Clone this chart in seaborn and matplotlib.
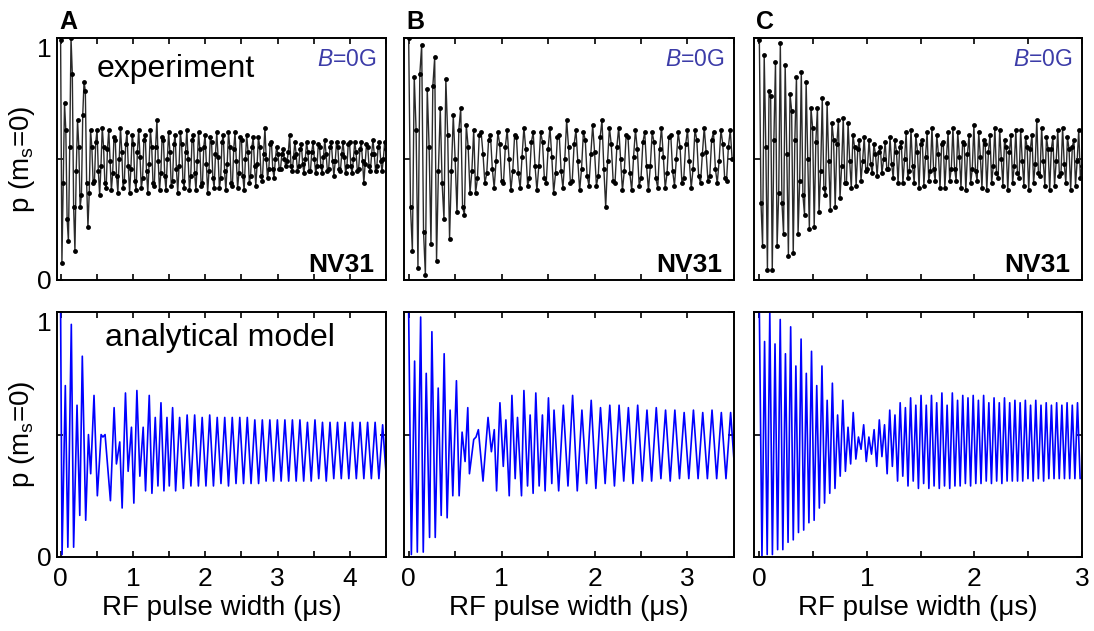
# Rabi oscillations NV31: experiment vs analytical model
import numpy as np
import matplotlib
matplotlib.use("Agg")
import matplotlib.pyplot as plt
import seaborn as sns

# ---- experiment data (p(ms=0) sampled at a fixed pulse-width step) ----
exp_a_step = 0.018
exp_a = [0.99, 0.07, 0.40, 0.73, 0.62, 0.25, 0.16, 0.55, 1.00, 0.85,
         0.30, 0.12, 0.45, 0.66, 0.55, 0.30, 0.35, 0.68, 0.82, 0.78,
         0.40, 0.22, 0.36, 0.62, 0.55, 0.40,
         0.41, 0.57, 0.62, 0.45, 0.35, 0.47, 0.63, 0.55, 0.40, 0.38,
         0.54, 0.62, 0.49, 0.37, 0.44, 0.59, 0.58, 0.43, 0.36, 0.50,
         0.63, 0.53, 0.38, 0.41, 0.56, 0.61, 0.47, 0.36, 0.46, 0.60,
         0.56, 0.41, 0.37, 0.53, 0.62, 0.51, 0.38, 0.42, 0.58, 0.60,
         0.45, 0.36, 0.48, 0.62, 0.55, 0.40, 0.39, 0.55, 0.66, 0.49,
         0.37, 0.44, 0.59, 0.58, 0.43, 0.37, 0.50, 0.61, 0.53, 0.39,
         0.41, 0.56, 0.60, 0.46, 0.36, 0.47, 0.61, 0.56, 0.41, 0.38,
         0.53, 0.62, 0.50, 0.37, 0.43, 0.58, 0.60, 0.44, 0.37, 0.49,
         0.61, 0.54, 0.39, 0.40, 0.55, 0.60, 0.48, 0.36, 0.45, 0.59,
         0.57, 0.42, 0.38, 0.52, 0.61, 0.51, 0.38, 0.42, 0.57, 0.60,
         0.45, 0.37, 0.48, 0.61, 0.55, 0.40, 0.39, 0.54, 0.61, 0.49,
         0.38, 0.44, 0.59, 0.58, 0.43, 0.37, 0.50, 0.60, 0.53, 0.40,
         0.43, 0.55, 0.59, 0.47, 0.39, 0.48, 0.59, 0.55, 0.43, 0.41,
         0.52, 0.63, 0.50, 0.42, 0.46, 0.56, 0.57, 0.46, 0.42, 0.50,
         0.55, 0.52, 0.46, 0.46, 0.52, 0.54, 0.50, 0.47, 0.49, 0.53,
         0.60, 0.47, 0.45, 0.51, 0.57, 0.52, 0.45, 0.47, 0.54, 0.56,
         0.48, 0.44, 0.50, 0.57, 0.53, 0.45, 0.45, 0.53, 0.57, 0.50,
         0.44, 0.47, 0.56, 0.55, 0.47, 0.44, 0.51, 0.58, 0.52, 0.45,
         0.46, 0.55, 0.57, 0.49, 0.43, 0.49, 0.57, 0.55, 0.46, 0.45,
         0.52, 0.57, 0.51, 0.44, 0.47, 0.56, 0.57, 0.47, 0.44, 0.50,
         0.57, 0.53, 0.45, 0.46, 0.54, 0.57, 0.49, 0.40, 0.48, 0.56,
         0.55, 0.47, 0.45, 0.52, 0.58, 0.52, 0.45, 0.47, 0.55, 0.57,
         0.49, 0.45, 0.50, 0.57, 0.54]

exp_b_step = 0.02
exp_b = [1.00, 0.30, 0.12, 0.84, 0.62, 0.05, 0.85, 0.97, 0.20, 0.02,
         0.79, 0.55, 0.15, 0.80, 0.92, 0.08, 0.45, 0.71, 0.40, 0.25,
         0.83, 0.60, 0.17, 0.45, 0.68, 0.50, 0.28, 0.62, 0.71, 0.30,
         0.27, 0.64, 0.55, 0.36, 0.45, 0.62, 0.36, 0.42, 0.60,
         0.61, 0.52, 0.40, 0.44, 0.58, 0.60, 0.46, 0.38, 0.49, 0.61,
         0.56, 0.41, 0.40, 0.55, 0.62, 0.50, 0.37, 0.45, 0.60, 0.59,
         0.44, 0.38, 0.51, 0.63, 0.54, 0.39, 0.42, 0.57, 0.61, 0.47,
         0.37, 0.47, 0.61, 0.57, 0.42, 0.40, 0.54, 0.63, 0.51, 0.36,
         0.44, 0.59, 0.60, 0.45, 0.38, 0.50, 0.66, 0.55, 0.40, 0.41,
         0.56, 0.62, 0.49, 0.37, 0.46, 0.61, 0.58, 0.43, 0.39, 0.52,
         0.64, 0.53, 0.39, 0.43, 0.59, 0.66, 0.46, 0.30, 0.49, 0.63,
         0.56, 0.41, 0.40, 0.55, 0.63, 0.50, 0.37, 0.45, 0.60, 0.59,
         0.44, 0.37, 0.51, 0.62, 0.54, 0.39, 0.42, 0.57, 0.61, 0.47,
         0.37, 0.47, 0.61, 0.57, 0.42, 0.38, 0.54, 0.63, 0.51, 0.38,
         0.44, 0.59, 0.60, 0.45, 0.39, 0.50, 0.61, 0.55, 0.40, 0.42,
         0.56, 0.62, 0.49, 0.38, 0.46, 0.62, 0.58, 0.43, 0.40, 0.52,
         0.63, 0.53, 0.41, 0.43, 0.58, 0.61, 0.46, 0.40, 0.49, 0.62,
         0.56, 0.42, 0.41, 0.55, 0.62, 0.50]

exp_c_step = 0.015
exp_c = [0.99, 0.32, 0.14, 0.93, 0.55, 0.04, 0.78, 0.76, 0.04, 0.58,
         0.90, 0.14, 0.36, 0.98, 0.32, 0.19, 0.89, 0.52, 0.10, 0.77,
         0.70, 0.11, 0.58, 0.84, 0.19, 0.41, 0.86, 0.35, 0.27, 0.82,
         0.50, 0.21, 0.71, 0.63, 0.22, 0.57, 0.71, 0.28, 0.45, 0.75,
         0.38, 0.35, 0.73, 0.49, 0.29, 0.65, 0.58, 0.30, 0.56, 0.66,
         0.34, 0.47, 0.67, 0.40, 0.40, 0.65, 0.49, 0.38, 0.60, 0.55,
         0.39, 0.54, 0.58, 0.41, 0.49, 0.59, 0.45, 0.46, 0.58, 0.48,
         0.44, 0.56, 0.52, 0.43, 0.53, 0.55, 0.44, 0.50, 0.57, 0.46,
         0.46, 0.59, 0.48, 0.42, 0.58, 0.53, 0.40, 0.55, 0.57, 0.40,
         0.50, 0.61, 0.42, 0.45, 0.62, 0.47, 0.40, 0.60, 0.53, 0.38,
         0.56, 0.58, 0.39, 0.51, 0.61, 0.41, 0.45, 0.63, 0.46, 0.41,
         0.60, 0.52, 0.38, 0.56, 0.57, 0.38, 0.51, 0.61, 0.41, 0.46,
         0.63, 0.46, 0.41, 0.61, 0.51, 0.38, 0.57, 0.56, 0.37, 0.52,
         0.60, 0.40, 0.46, 0.64, 0.45, 0.41, 0.61, 0.51, 0.38, 0.58,
         0.56, 0.37, 0.53, 0.60, 0.40, 0.47, 0.63, 0.44, 0.42, 0.62,
         0.50, 0.39, 0.58, 0.55, 0.37, 0.53, 0.60, 0.40, 0.47, 0.62,
         0.44, 0.42, 0.62, 0.49, 0.39, 0.59, 0.55, 0.37, 0.54, 0.60,
         0.40, 0.48, 0.66, 0.44, 0.43, 0.63, 0.49, 0.39, 0.59, 0.54,
         0.37, 0.54, 0.59, 0.39, 0.49, 0.62, 0.43, 0.44, 0.63, 0.48,
         0.40, 0.59, 0.54, 0.37, 0.55, 0.58, 0.39, 0.49, 0.62, 0.42,
         0.47]

# ---- analytical model: turning points (peak / trough) ----
model_a_t = [0.000, 0.020, 0.065, 0.100, 0.148, 0.180, 0.227, 0.265, 0.300, 0.347,
             0.385, 0.416, 0.462, 0.508, 0.560, 0.585, 0.615, 0.689, 0.740, 0.772,
             0.818, 0.851, 0.897, 0.934, 0.980, 1.013, 1.055, 1.096, 1.142, 1.175,
             1.226, 1.263, 1.309, 1.346, 1.388, 1.429, 1.471, 1.503, 1.549, 1.591,
             1.646]
model_a_p = [1.00, 0.01, 0.70, 0.04, 0.95, 0.04, 0.62, 0.17, 0.82, 0.15,
             0.50, 0.34, 0.66, 0.25, 0.50, 0.49, 0.50, 0.23, 0.61, 0.38,
             0.47, 0.20, 0.67, 0.35, 0.53, 0.22, 0.68, 0.33, 0.53, 0.27,
             0.66, 0.26, 0.57, 0.29, 0.63, 0.27, 0.57, 0.29, 0.61, 0.27,
             0.57]
model_a_tail_start = 1.698
model_a_half = 0.052
model_a_tail_lo = [0.28, 0.29, 0.29, 0.29, 0.29, 0.30, 0.29, 0.30, 0.30, 0.30,
                   0.30, 0.31, 0.31, 0.31, 0.31, 0.31, 0.31, 0.31, 0.32, 0.31,
                   0.32, 0.32, 0.32, 0.32, 0.32, 0.32, 0.32, 0.32]
model_a_tail_hi = [0.58, 0.58, 0.57, 0.58, 0.57, 0.57, 0.57, 0.57, 0.57, 0.56,
                   0.56, 0.56, 0.56, 0.56, 0.56, 0.56, 0.55, 0.56, 0.55, 0.55,
                   0.55, 0.55, 0.55, 0.55, 0.55, 0.55, 0.54, 0.55]

model_b_t = [0.000, 0.029, 0.064, 0.093, 0.129, 0.157, 0.189, 0.225, 0.250, 0.286,
             0.318, 0.350, 0.382, 0.414, 0.446, 0.475, 0.514, 0.543, 0.575, 0.607,
             0.636, 0.654, 0.700, 0.725, 0.750, 0.800, 0.854, 0.890, 0.921, 0.946,
             0.982, 1.018, 1.046, 1.082, 1.111, 1.146, 1.171, 1.214, 1.240, 1.279,
             1.307, 1.339, 1.368, 1.404, 1.439, 1.468, 1.504, 1.540, 1.564]
model_b_p = [1.00, 0.01, 0.80, 0.02, 0.98, 0.02, 0.75, 0.08, 0.92, 0.08,
             0.69, 0.17, 0.83, 0.16, 0.60, 0.25, 0.72, 0.25, 0.51, 0.39,
             0.61, 0.34, 0.48, 0.49, 0.52, 0.31, 0.57, 0.43, 0.52, 0.27,
             0.63, 0.37, 0.56, 0.25, 0.66, 0.32, 0.57, 0.25, 0.68, 0.29,
             0.58, 0.26, 0.67, 0.29, 0.58, 0.27, 0.65, 0.30, 0.60]
model_b_tail_start = 1.614
model_b_half = 0.05
model_b_tail_lo = [0.27, 0.29, 0.27, 0.30, 0.28, 0.30, 0.29, 0.31, 0.30, 0.31,
                   0.31, 0.32, 0.31, 0.32, 0.32, 0.32, 0.32, 0.32, 0.32, 0.32]
model_b_tail_hi = [0.62, 0.66, 0.60, 0.64, 0.61, 0.62, 0.62, 0.61, 0.62, 0.60,
                   0.61, 0.60, 0.60, 0.59, 0.60, 0.59, 0.60, 0.59, 0.59, 0.59]

model_c_t = []
model_c_p = []
model_c_tail_start = 0.0
model_c_half = 0.02425
model_c_tail_hi = [1.00, 0.88, 1.00, 0.87, 0.97, 0.83, 0.94, 0.78, 0.89, 0.75,
                   0.84, 0.70, 0.78, 0.64, 0.71, 0.58, 0.64, 0.53, 0.59, 0.49,
                   0.54, 0.49, 0.52, 0.56, 0.54, 0.60, 0.58, 0.63, 0.61, 0.65,
                   0.62, 0.66, 0.62, 0.66, 0.63, 0.67, 0.62, 0.67, 0.64, 0.66,
                   0.65, 0.66, 0.64, 0.66, 0.63, 0.65, 0.63, 0.65, 0.63, 0.64,
                   0.63, 0.64, 0.62, 0.64, 0.62, 0.63, 0.62, 0.63, 0.62, 0.63,
                   0.62, 0.63, 0.62]
model_c_tail_lo = [0.00, 0.01, 0.01, 0.03, 0.03, 0.06, 0.07, 0.10, 0.11, 0.14,
                   0.15, 0.20, 0.22, 0.26, 0.28, 0.33, 0.35, 0.38, 0.40, 0.44,
                   0.39, 0.42, 0.37, 0.41, 0.34, 0.37, 0.31, 0.33, 0.29, 0.31,
                   0.28, 0.30, 0.28, 0.29, 0.28, 0.29, 0.28, 0.29, 0.29, 0.30,
                   0.29, 0.30, 0.30, 0.31, 0.30, 0.31, 0.30, 0.31, 0.31, 0.31,
                   0.31, 0.32, 0.31, 0.32, 0.31, 0.32, 0.32, 0.32, 0.32, 0.32,
                   0.32, 0.32]

panel_letters = ["A", "B", "C"]
x_max = [4.5, 3.5, 3.0]


def model_curve(t_early, p_early, start, half, first, second):
    # interleave turning points of the regular tail
    vals = []
    for a, b in zip(first, second):
        vals += [a, b]
    tt = start + half * np.arange(len(vals))
    return np.r_[t_early, tt], np.r_[p_early, vals]


exp_sets = [(exp_a_step, exp_a), (exp_b_step, exp_b), (exp_c_step, exp_c)]
model_sets = [
    model_curve(model_a_t, model_a_p, model_a_tail_start, model_a_half, model_a_tail_lo, model_a_tail_hi),
    model_curve(model_b_t, model_b_p, model_b_tail_start, model_b_half, model_b_tail_lo, model_b_tail_hi),
    model_curve(model_c_t, model_c_p, model_c_tail_start, model_c_half, model_c_tail_hi, model_c_tail_lo),
]

sns.set_style("ticks")
plt.rcParams["font.family"] = ["Liberation Sans", "DejaVu Sans"]
plt.rcParams["mathtext.fontset"] = "custom"
plt.rcParams["mathtext.rm"] = "Liberation Sans"
plt.rcParams["mathtext.it"] = "Liberation Sans:italic"
plt.rcParams["mathtext.bf"] = "Liberation Sans:bold"
plt.rcParams["mathtext.default"] = "regular"
for key in ["text.color", "axes.labelcolor", "xtick.color", "ytick.color"]:
    plt.rcParams[key] = "black"

fig = plt.figure(figsize=(10.94, 6.31), dpi=100)
lefts = [0.0521, 0.3693, 0.6892]
widths = [0.3007, 0.3016, 0.2998]
blue_txt = "#3c3ca8"

for i in range(3):
    ax_top = fig.add_axes([lefts[i], 0.5563, widths[i], 0.3835])
    ax_bot = fig.add_axes([lefts[i], 0.1173, widths[i], 0.3880])

    step, vals = exp_sets[i]
    t_exp = step * np.arange(len(vals))
    sns.lineplot(x=t_exp, y=vals, ax=ax_top, color="#2a2a2a", lw=1.0,
                 marker="o", markersize=3.5, markeredgewidth=0,
                 markerfacecolor="black", estimator=None)

    t_mod, p_mod = model_sets[i]
    sns.lineplot(x=t_mod, y=p_mod, ax=ax_bot, color="#0000ff", lw=1.2,
                 estimator=None)

    for ax in (ax_top, ax_bot):
        ax.set_xlim(-0.05, x_max[i])
        ax.set_ylim(0, 1)
        xt = np.arange(0, x_max[i] + 0.01, 0.5)
        ax.set_xticks(xt)
        ax.set_yticks([0, 0.5, 1])
        ax.tick_params(direction="in", length=4, width=1.2, top=True, right=True,
                       labelsize=19, pad=7, colors="black")
        for s in ax.spines.values():
            s.set_linewidth(1.4)
            s.set_color("black")
        ax.set_xlabel("")
        ax.set_ylabel("")
        if i == 0:
            ax.set_yticklabels(["0", "", "1"])
            ax.tick_params(axis="y", pad=4)
            ax.get_yticklabels()[2].set_va("top")
            ax.set_ylabel("p (m$_{s}$=0)", fontsize=20, labelpad=0)
        else:
            ax.set_yticklabels([])

    ax_top.set_xticklabels([])
    ax_bot.set_xticklabels([("%d" % v) if v == int(v) else "" for v in xt])
    ax_bot.set_xlabel("RF pulse width (\u03bcs)", fontsize=20, labelpad=3)

    ax_top.text(0.97, 0.91, "$\\mathit{B}$=0G", transform=ax_top.transAxes,
                ha="right", va="center", fontsize=16.5, color=blue_txt)
    ax_top.text(0.965, 0.06, "NV31", transform=ax_top.transAxes,
                ha="right", va="center", fontsize=19, fontweight="bold")
    fig.text(lefts[i] + 0.002, 0.965, panel_letters[i], fontsize=18,
             fontweight="bold", ha="left", va="center")

    if i == 0:
        ax_top.text(0.12, 0.87, "experiment", transform=ax_top.transAxes,
                    ha="left", va="center", fontsize=23)
        ax_bot.text(0.495, 0.894, "analytical model", transform=ax_bot.transAxes,
                    ha="center", va="center", fontsize=23)

fig.savefig("out.png", dpi=100)
